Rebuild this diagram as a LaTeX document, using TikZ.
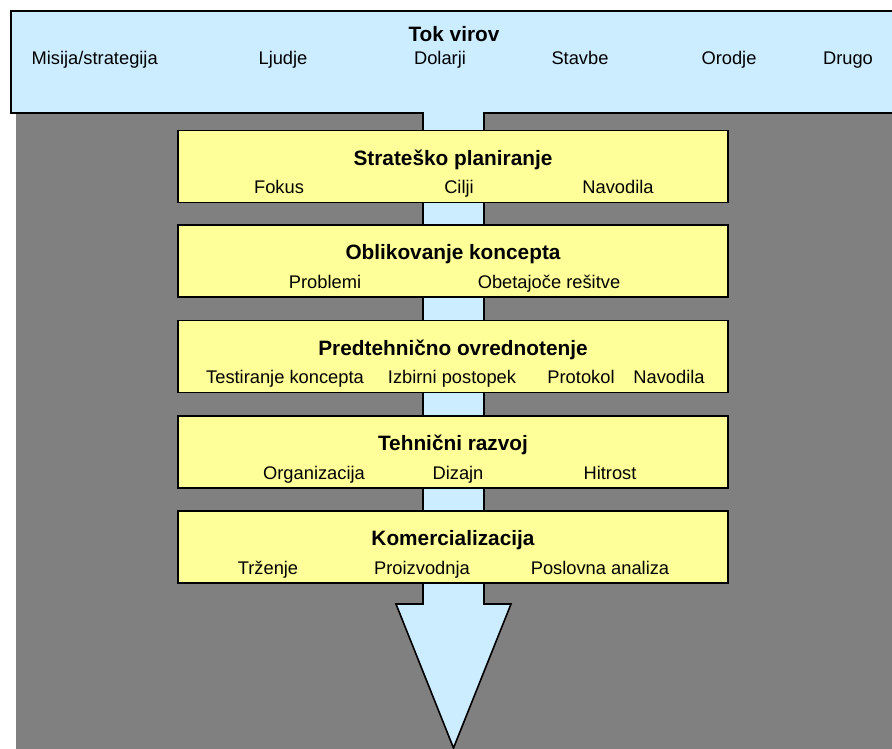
\documentclass[tikz,border=0pt]{standalone}
\usepackage{fontspec}
\setmainfont{Liberation Sans}
\definecolor{flowblue}{HTML}{CCECFF}
\definecolor{stageyellow}{HTML}{FFFF99}
\definecolor{backgray}{HTML}{808080}
\tikzset{
  outline/.style={draw=black, line width=1.6pt, line join=miter},
  stagebox/.style={outline, fill=stageyellow, minimum width=550pt,
    minimum height=72pt, inner sep=0pt},
  headtext/.style={anchor=base, inner sep=0pt,
    font=\fontsize{20.8}{24}\selectfont\bfseries},
  itemtext/.style={anchor=base, inner sep=0pt,
    font=\fontsize{18.3}{21}\selectfont},
}
\begin{document}
\begin{tikzpicture}[x=1pt,y=-1pt]
\useasboundingbox (0,0) rectangle (892,748);
\clip (0,0) rectangle (892,748);
\fill[white] (0,0) rectangle (892,748);
% grey backdrop
\fill[backgray] (16,113) rectangle (910,770);
% the big flow arrow: header band, shaft and head
\draw[outline, fill=flowblue]
  (11,11) -- (910,11) -- (910,113) -- (484,113) -- (484,604)
  -- (511,604) -- (453.5,748) -- (396,604) -- (423,604)
  -- (423,113) -- (11,113) -- cycle;

% header band texts
\node[headtext] (src)  at (454,41) {Tok virov};
\node[itemtext] (src1) at (94.7,64) {Misija/strategija};
\node[itemtext] (src2) at (283,64) {Ljudje};
\node[itemtext] (src3) at (440,64) {Dolarji};
\node[itemtext] (src4) at (580,64) {Stavbe};
\node[itemtext] (src5) at (729,64) {Orodje};
\node[itemtext] (src6) at (848,64) {Drugo};

% stage boxes
\node[stagebox] (s1) at (453,166.5) {};
\node[stagebox] (s2) at (453,261) {};
\node[stagebox] (s3) at (453,356.5) {};
\node[stagebox] (s4) at (453,452) {};
\node[stagebox] (s5) at (453,547) {};

% stage 1
\node[headtext] (s1h) at (453,165) {Strateško planiranje};
\node[itemtext] (s1a) at (279,193.6) {Fokus};
\node[itemtext] (s1b) at (459,193.6) {Cilji};
\node[itemtext] (s1c) at (618,193.6) {Navodila};
% stage 2
\node[headtext] (s2h) at (453,259.5) {Oblikovanje koncepta};
\node[itemtext] (s2a) at (325,288) {Problemi};
\node[itemtext] (s2b) at (549,288) {Obetajoče rešitve};
% stage 3
\node[headtext] (s3h) at (453,355) {Predtehnično ovrednotenje};
\node[itemtext] (s3a) at (285,383.5) {Testiranje koncepta};
\node[itemtext] (s3b) at (452,383.5) {Izbirni postopek};
\node[itemtext] (s3c) at (581,383.5) {Protokol};
\node[itemtext] (s3d) at (669,383.5) {Navodila};
% stage 4
\node[headtext] (s4h) at (453,450.5) {Tehnični razvoj};
\node[itemtext] (s4a) at (314,479) {Organizacija};
\node[itemtext] (s4b) at (458,479) {Dizajn};
\node[itemtext] (s4c) at (610,479) {Hitrost};
% stage 5
\node[headtext] (s5h) at (453,545.5) {Komercializacija};
\node[itemtext] (s5a) at (268,574) {Trženje};
\node[itemtext] (s5b) at (422,574) {Proizvodnja};
\node[itemtext] (s5c) at (600,574) {Poslovna analiza};
\end{tikzpicture}
\end{document}
